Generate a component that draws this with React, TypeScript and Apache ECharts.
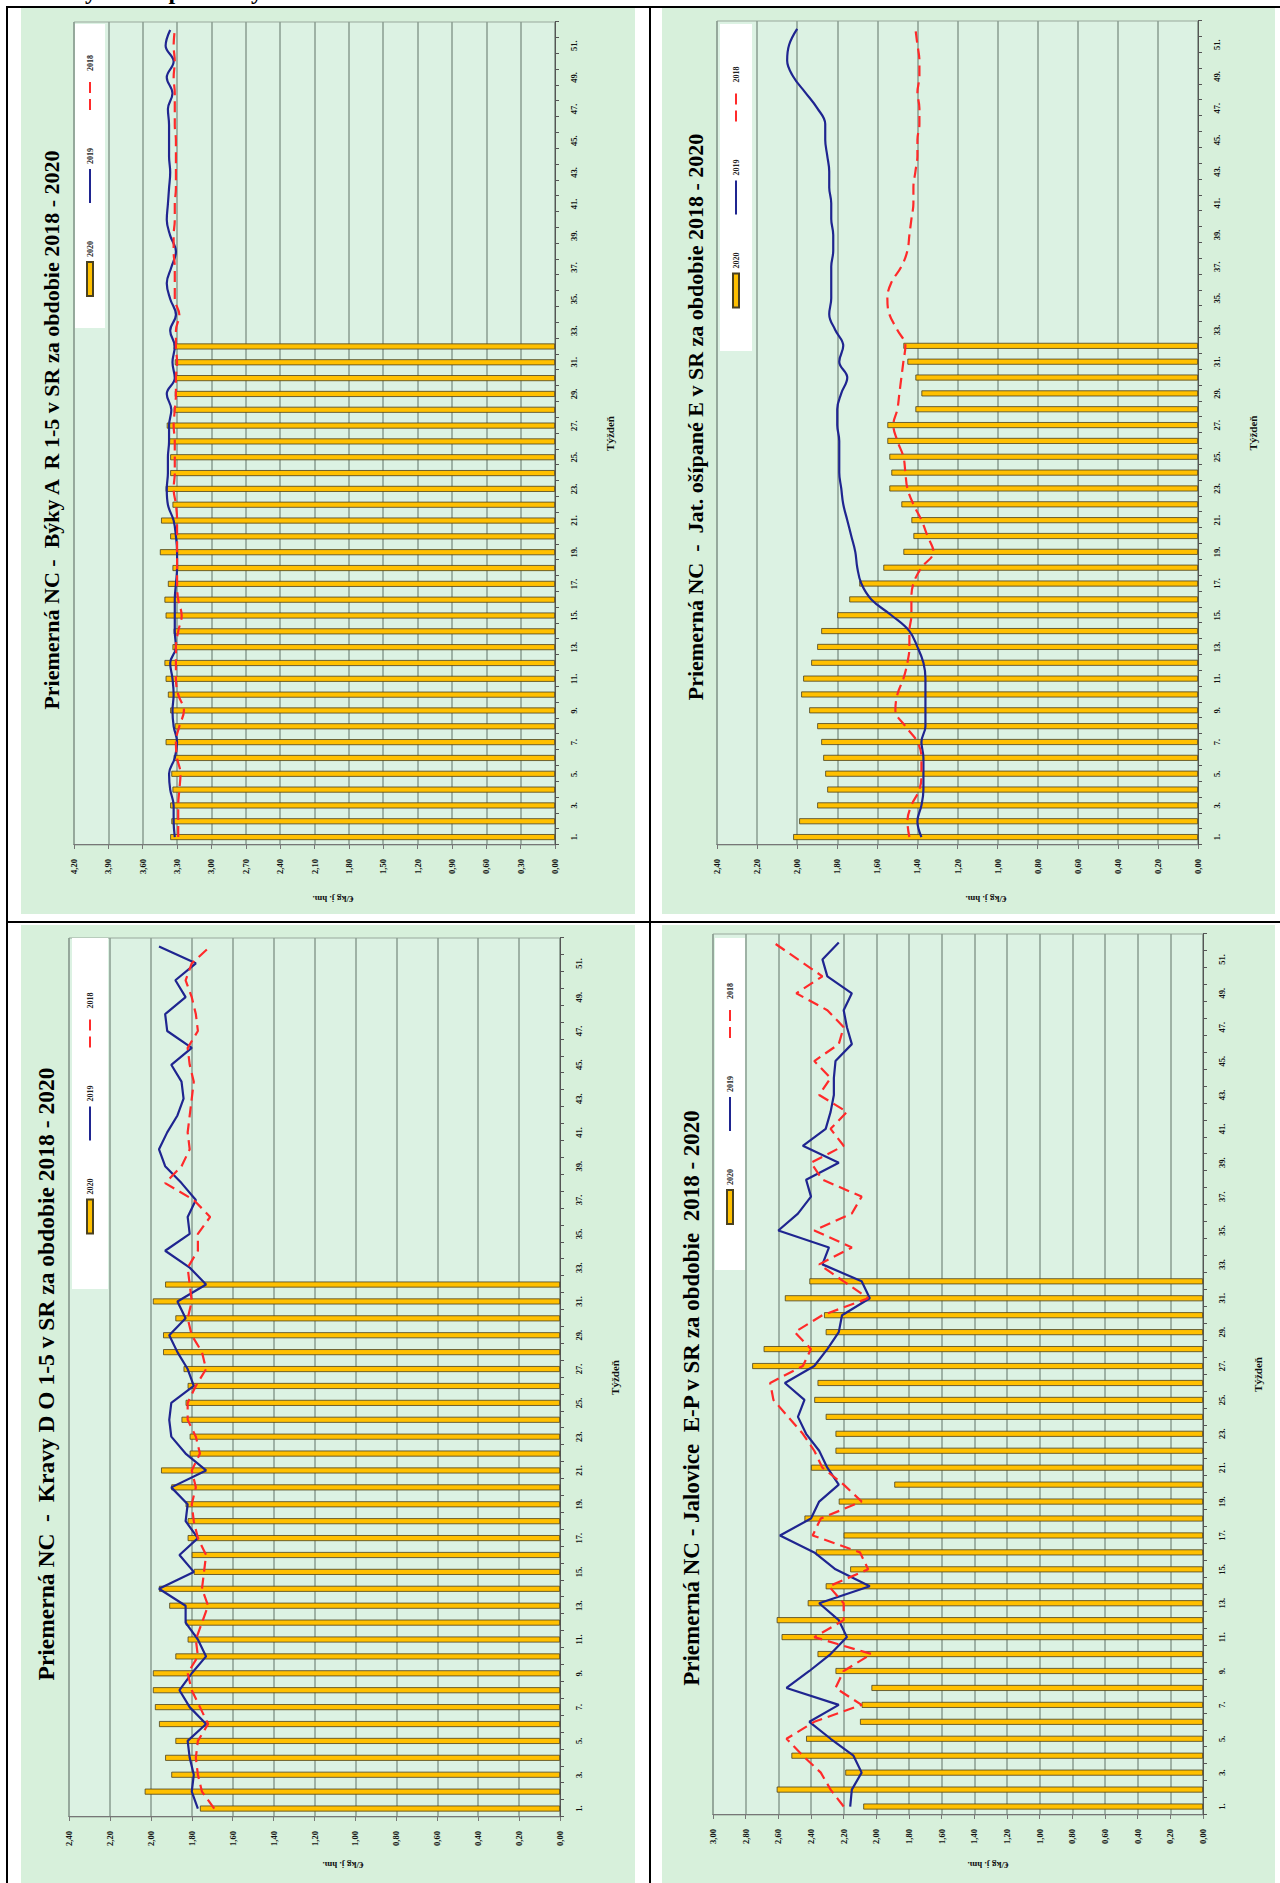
import React, { useEffect, useRef } from "react";
import * as echarts from "echarts";

const WEEKS = Array.from({ length: 52 }, (_, i) => String(i + 1));
const SERIES_NAMES = ["2020", "2019", "2018"];
const Y_NAME = "€/kg j. hm.";
const X_NAME = "Týždeň";

// Býky A R 1-5
const BYKY_TITLE = "Priemerná NC -  Býky A  R 1-5 v SR za obdobie 2018 - 2020";
const BYKY_2020 = [3.36, 3.35, 3.36, 3.34, 3.35, 3.33, 3.40, 3.32, 3.36, 3.38, 3.40, 3.41, 3.34, 3.33, 3.40, 3.41, 3.38, 3.34, 3.45, 3.36, 3.44, 3.34, 3.40, 3.36, 3.36, 3.37, 3.39, 3.33, 3.32, 3.32, 3.32, 3.33];
const BYKY_2019 = [3.32, 3.33, 3.33, 3.36, 3.37, 3.32, 3.30, 3.33, 3.34, 3.33, 3.34, 3.36, 3.31, 3.32, 3.32, 3.32, 3.31, 3.30, 3.30, 3.31, 3.33, 3.38, 3.39, 3.38, 3.38, 3.37, 3.37, 3.35, 3.39, 3.32, 3.34, 3.32, 3.36, 3.31, 3.36, 3.39, 3.35, 3.31, 3.36, 3.39, 3.38, 3.37, 3.36, 3.37, 3.37, 3.37, 3.38, 3.34, 3.39, 3.33, 3.40, 3.36];
const BYKY_2018 = [3.29, 3.29, 3.29, 3.28, 3.27, 3.30, 3.31, 3.28, 3.24, 3.29, 3.31, 3.31, 3.31, 3.29, 3.26, 3.29, 3.30, 3.30, 3.30, 3.30, 3.30, 3.31, 3.33, 3.32, 3.32, 3.32, 3.33, 3.32, 3.31, 3.31, 3.30, 3.31, 3.31, 3.28, 3.32, 3.32, 3.32, 3.33, 3.33, 3.32, 3.32, 3.31, 3.31, 3.31, 3.31, 3.32, 3.32, 3.32, 3.33, 3.32, 3.33, 3.32];
const BYKY_AXIS = [0, 4.2, 0.3];

// Jat. ošípané E
const JAT_TITLE = "Priemerná NC  -  Jat. ošípané E v SR za obdobie 2018 - 2020";
const JAT_2020 = [2.02, 1.99, 1.90, 1.85, 1.86, 1.87, 1.88, 1.90, 1.94, 1.98, 1.97, 1.93, 1.90, 1.88, 1.80, 1.74, 1.69, 1.57, 1.47, 1.42, 1.43, 1.48, 1.54, 1.53, 1.54, 1.55, 1.55, 1.41, 1.38, 1.41, 1.45, 1.47];
const JAT_2019 = [1.38, 1.40, 1.38, 1.37, 1.37, 1.37, 1.38, 1.36, 1.36, 1.36, 1.36, 1.37, 1.40, 1.44, 1.53, 1.63, 1.68, 1.70, 1.71, 1.73, 1.75, 1.77, 1.78, 1.79, 1.79, 1.79, 1.80, 1.80, 1.78, 1.75, 1.79, 1.77, 1.81, 1.84, 1.83, 1.83, 1.83, 1.82, 1.82, 1.83, 1.83, 1.84, 1.84, 1.85, 1.86, 1.86, 1.90, 1.96, 2.02, 2.05, 2.04, 2.00];
const JAT_2018 = [1.44, 1.45, 1.43, 1.39, 1.38, 1.38, 1.40, 1.46, 1.51, 1.50, 1.47, 1.45, 1.44, 1.44, 1.43, 1.43, 1.42, 1.38, 1.32, 1.35, 1.38, 1.42, 1.45, 1.46, 1.47, 1.50, 1.52, 1.50, 1.49, 1.48, 1.47, 1.46, 1.50, 1.54, 1.55, 1.53, 1.48, 1.45, 1.44, 1.43, 1.42, 1.42, 1.41, 1.40, 1.40, 1.39, 1.39, 1.40, 1.39, 1.39, 1.40, 1.41];
const JAT_AXIS = [0, 2.4, 0.2];

// Kravy D O 1-5
const KRAVY_TITLE = "Priemerná NC  -  Kravy D O 1-5 v SR za obdobie 2018 - 2020";
const KRAVY_2020 = [1.76, 2.03, 1.90, 1.93, 1.88, 1.96, 1.98, 1.99, 1.99, 1.88, 1.82, 1.83, 1.91, 1.96, 1.79, 1.80, 1.82, 1.82, 1.83, 1.90, 1.95, 1.81, 1.81, 1.85, 1.83, 1.82, 1.84, 1.94, 1.94, 1.88, 1.99, 1.93];
const KRAVY_2019 = [1.77, 1.80, 1.79, 1.81, 1.82, 1.73, 1.81, 1.86, 1.80, 1.73, 1.77, 1.83, 1.83, 1.96, 1.79, 1.86, 1.77, 1.83, 1.82, 1.90, 1.73, 1.83, 1.90, 1.91, 1.90, 1.79, 1.82, 1.87, 1.91, 1.83, 1.87, 1.73, 1.81, 1.93, 1.81, 1.82, 1.78, 1.85, 1.93, 1.96, 1.92, 1.87, 1.84, 1.85, 1.90, 1.80, 1.92, 1.93, 1.83, 1.88, 1.78, 1.96];
const KRAVY_2018 = [1.69, 1.75, 1.77, 1.78, 1.77, 1.72, 1.76, 1.80, 1.82, 1.77, 1.78, 1.75, 1.72, 1.75, 1.74, 1.73, 1.77, 1.79, 1.80, 1.78, 1.80, 1.76, 1.78, 1.82, 1.82, 1.78, 1.73, 1.75, 1.80, 1.82, 1.80, 1.81, 1.82, 1.77, 1.77, 1.71, 1.79, 1.93, 1.85, 1.81, 1.82, 1.81, 1.80, 1.79, 1.81, 1.82, 1.77, 1.78, 1.80, 1.83, 1.80, 1.71];
const KRAVY_AXIS = [0, 2.4, 0.2];

// Jalovice E-P
const JAL_TITLE = "Priemerná NC - Jalovice  E-P v SR za obdobie  2018 - 2020";
const JAL_2020 = [2.08, 2.61, 2.19, 2.52, 2.43, 2.10, 2.09, 2.03, 2.25, 2.36, 2.58, 2.61, 2.42, 2.31, 2.16, 2.37, 2.20, 2.44, 2.23, 1.89, 2.40, 2.25, 2.25, 2.31, 2.38, 2.36, 2.76, 2.69, 2.31, 2.32, 2.56, 2.41];
const JAL_2019 = [2.16, 2.15, 2.09, 2.14, 2.28, 2.41, 2.23, 2.55, 2.41, 2.28, 2.18, 2.23, 2.35, 2.04, 2.25, 2.38, 2.59, 2.40, 2.35, 2.23, 2.30, 2.35, 2.43, 2.48, 2.44, 2.56, 2.38, 2.30, 2.23, 2.21, 2.04, 2.09, 2.33, 2.29, 2.60, 2.48, 2.40, 2.43, 2.23, 2.45, 2.31, 2.28, 2.26, 2.26, 2.25, 2.15, 2.18, 2.20, 2.15, 2.30, 2.33, 2.23];
const JAL_2018 = [2.20, 2.28, 2.34, 2.45, 2.55, 2.38, 2.09, 2.25, 2.20, 2.03, 2.38, 2.20, 2.20, 2.29, 2.05, 2.10, 2.39, 2.34, 2.09, 2.20, 2.33, 2.38, 2.45, 2.54, 2.63, 2.65, 2.45, 2.40, 2.50, 2.33, 2.05, 2.20, 2.35, 2.15, 2.38, 2.15, 2.09, 2.33, 2.40, 2.20, 2.28, 2.18, 2.35, 2.28, 2.38, 2.23, 2.20, 2.30, 2.49, 2.33, 2.48, 2.63];
const JAL_AXIS = [0, 3.0, 0.2];

const SERIF = '"Liberation Serif", "Times New Roman", serif';
const PANEL_BG = "#d7f0db";
const PLOT_BG = "#dcf2e3";
const BLUE = "#1f2590";
const RED = "#ff2a2a";

type Cfg = {
  x: number; y: number; W: number; H: number;
  grid: { left: number; right: number; top: number; bottom: number };
  axis: number[];
  title: string; titleU: number; titleV: number; titleSize: number;
  nameU: number; nameV: number;
  legendRight: number; legendTop: number; legendW: number; legendH: number;
  bars: number[]; l2019: number[]; l2018: number[];
  smooth: boolean | number;
};

const PANELS: Cfg[] = [
  {
    x: 21, y: 8, W: 906, H: 614,
    grid: { left: 69, right: 14, top: 53, bottom: 80 },
    axis: BYKY_AXIS, title: BYKY_TITLE, titleU: 484, titleV: 30, titleSize: 22,
    nameU: 15, nameV: 312,
    legendRight: 16, legendTop: 54, legendW: 304, legendH: 30,
    bars: BYKY_2020, l2019: BYKY_2019, l2018: BYKY_2018, smooth: 0.4,
  },
  {
    x: 662, y: 8, W: 906, H: 613,
    grid: { left: 69, right: 13, top: 55, bottom: 77 },
    axis: JAT_AXIS, title: JAT_TITLE, titleU: 497, titleV: 33, titleSize: 22,
    nameU: 15, nameV: 324,
    legendRight: 16, legendTop: 58, legendW: 327, legendH: 32,
    bars: JAT_2020, l2019: JAT_2019, l2018: JAT_2018, smooth: 0.4,
  },
  {
    x: 21, y: 925, W: 965, H: 614,
    grid: { left: 73, right: 13, top: 48, bottom: 75 },
    axis: KRAVY_AXIS, title: KRAVY_TITLE, titleU: 516, titleV: 25, titleSize: 23.5,
    nameU: 25, nameV: 322,
    legendRight: 13, legendTop: 51, legendW: 351, legendH: 36,
    bars: KRAVY_2020, l2019: KRAVY_2019, l2018: KRAVY_2018, smooth: false,
  },
  {
    x: 662, y: 925, W: 965, H: 613,
    grid: { left: 75, right: 9, top: 51, bottom: 72 },
    axis: JAL_AXIS, title: JAL_TITLE, titleU: 492, titleV: 29, titleSize: 23,
    nameU: 25, nameV: 326,
    legendRight: 13, legendTop: 53, legendW: 332, legendH: 30,
    bars: JAL_2020, l2019: JAL_2019, l2018: JAL_2018, smooth: false,
  },
];

function buildOption(c: Cfg) {
  const itemsW = 3 * (34 + 5 + 17) + 2 * 37;
  const padH = Math.max(4, (c.legendW - itemsW) / 2);
  const padV = Math.max(2, (c.legendH - 8) / 2);
  return {
    animation: false,
    backgroundColor: PANEL_BG,
    grid: {
      ...c.grid,
      show: true,
      backgroundColor: PLOT_BG,
      borderColor: "#98a89c",
      borderWidth: 1,
    },
    legend: {
      data: [
        { name: SERIES_NAMES[0], icon: "rect" },
        { name: SERIES_NAMES[1], itemStyle: { opacity: 0 } },
        { name: SERIES_NAMES[2], itemStyle: { opacity: 0 } },
      ],
      right: c.legendRight,
      top: c.legendTop,
      backgroundColor: "#ffffff",
      padding: [padV, padH, padV, padH],
      itemWidth: 34,
      itemHeight: 6,
      itemGap: 37,
      textStyle: { fontSize: 8, fontFamily: SERIF, fontWeight: "bold", color: "#222" },
    },
    xAxis: {
      type: "category",
      data: WEEKS,
      boundaryGap: true,
      axisLine: { show: true, lineStyle: { color: "#555", width: 1 } },
      axisTick: { show: true, interval: 0, length: 4, lineStyle: { color: "#555" } },
      axisLabel: {
        interval: 1,
        formatter: (v: string) => v + ".",
        fontSize: 8.5,
        fontWeight: "bold",
        fontFamily: SERIF,
        color: "#111",
        margin: 14,
      },
      splitLine: { show: false },
      name: X_NAME,
      nameLocation: "middle",
      nameGap: 49,
      nameTextStyle: { fontSize: 11, fontWeight: "bold", fontFamily: SERIF, color: "#111" },
    },
    yAxis: {
      type: "value",
      min: c.axis[0],
      max: c.axis[1],
      interval: c.axis[2],
      axisLine: { show: true, lineStyle: { color: "#777", width: 1 } },
      axisTick: { show: true, length: 4, lineStyle: { color: "#777" } },
      splitLine: { show: true, lineStyle: { color: "#8a9d90", width: 1.5 } },
      axisLabel: {
        formatter: (v: number) => v.toFixed(2).replace(".", ","),
        fontSize: 8.5,
        fontWeight: "bold",
        fontFamily: SERIF,
        color: "#111",
        margin: 14,
      },
    },
    graphic: [
      {
        type: "text",
        x: c.titleU,
        y: c.titleV,
        style: {
          text: c.title,
          fontSize: c.titleSize,
          fontWeight: "bold",
          fontFamily: SERIF,
          fill: "#000",
          align: "center",
          verticalAlign: "middle",
        },
      },
      {
        type: "text",
        x: c.nameU,
        y: c.nameV,
        rotation: Math.PI / 2,
        style: {
          text: Y_NAME,
          fontSize: 9,
          fontWeight: "bold",
          fontFamily: SERIF,
          fill: "#111",
          align: "center",
          verticalAlign: "middle",
        },
      },
    ],
    series: [
      {
        name: SERIES_NAMES[0],
        type: "bar",
        data: c.bars,
        barWidth: 6,
        itemStyle: { color: "#ffc000", borderColor: "#4a4120", borderWidth: 0.8 },
      },
      {
        name: SERIES_NAMES[1],
        type: "line",
        data: c.l2019,
        symbol: "none",
        smooth: c.smooth,
        lineStyle: { color: BLUE, width: 2.2 },
        itemStyle: { color: BLUE },
      },
      {
        name: SERIES_NAMES[2],
        type: "line",
        data: c.l2018,
        symbol: "none",
        smooth: c.smooth,
        lineStyle: { color: RED, width: 2.2, type: [11, 6] },
        itemStyle: { color: RED },
      },
    ],
  };
}

function Panel({ cfg }: { cfg: Cfg }) {
  const ref = useRef<HTMLDivElement>(null);
  useEffect(() => {
    if (!ref.current) return;
    const chart = echarts.init(ref.current, null, { renderer: "svg" });
    chart.setOption(buildOption(cfg) as any);
    return () => chart.dispose();
  }, [cfg]);
  return (
    <div
      style={{
        position: "absolute",
        left: cfg.x,
        top: cfg.y,
        width: cfg.H,
        height: cfg.W,
        overflow: "hidden",
      }}
    >
      <div
        ref={ref}
        style={{
          position: "absolute",
          left: 0,
          top: 0,
          width: cfg.W,
          height: cfg.H,
          transformOrigin: "0 0",
          transform: `translate(0px, ${cfg.W}px) rotate(-90deg)`,
        }}
      />
    </div>
  );
}

const line = (l: number, t: number, w: number, h: number) => (
  <div style={{ position: "absolute", left: l, top: t, width: w, height: h, background: "#000" }} />
);

export default function App() {
  return (
    <div
      style={{
        position: "absolute",
        left: 0,
        top: 0,
        width: 1280,
        height: 1883,
        overflow: "hidden",
        background: "#fff",
      }}
    >
      <div
        style={{
          position: "absolute",
          left: 8,
          top: -21,
          fontFamily: SERIF,
          fontWeight: "bold",
          fontSize: 24,
          lineHeight: "24px",
          whiteSpace: "nowrap",
          color: "#000",
        }}
      >
        Tabuľky cien – priemery
      </div>
      {PANELS.map((p, i) => (
        <Panel key={i} cfg={p} />
      ))}
      {line(6, 6, 1274, 2)}
      {line(6, 6, 2, 1877)}
      {line(649, 6, 2, 1877)}
      {line(6, 921, 1274, 2)}
    </div>
  );
}
